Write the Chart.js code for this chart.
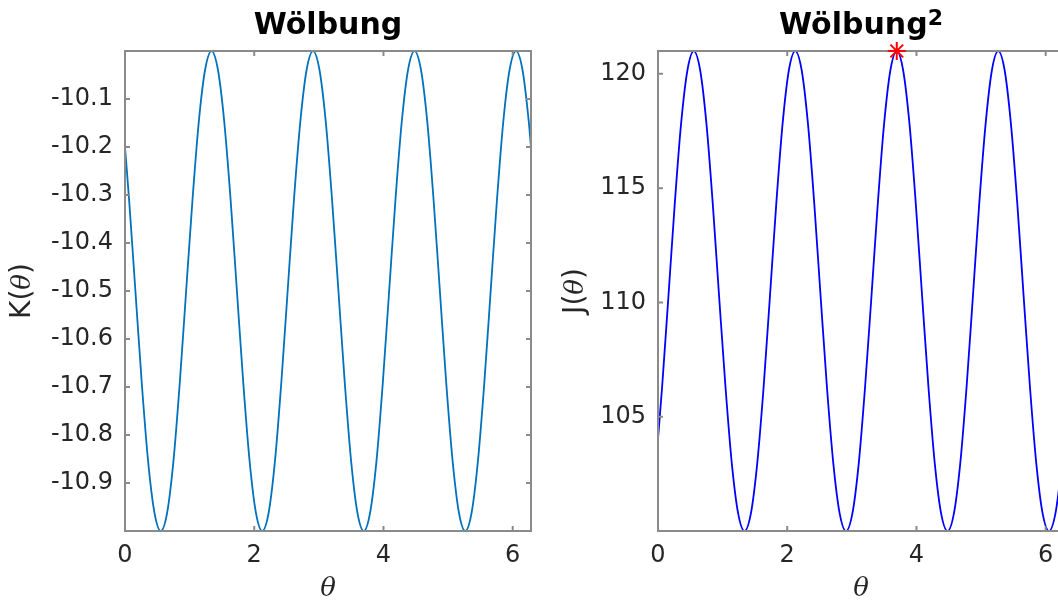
<!DOCTYPE html>
<html>
<head>
<meta charset="utf-8">
<script src="https://cdn.jsdelivr.net/npm/chart.js@4.4.1/dist/chart.umd.min.js"></script>
<style>
    html, body { margin: 0; padding: 0; background: #fff; overflow: hidden; width: 1058px; height: 603px; }
    .panel { position: absolute; top: 0; width: 560px; height: 603px; }
    #leftPanel { left: 0; }
    #rightPanel { left: 540px; }
</style>
</head>
<body>
<div class="panel" id="leftPanel"><canvas id="kappaChart" width="560" height="603"></canvas></div>
<div class="panel" id="rightPanel"><canvas id="kappaSqChart" width="560" height="603"></canvas></div>
<script>
// theta samples
const theta = [
    0, 0.063, 0.161, 0.259, 0.357, 0.456, 0.554, 0.652, 0.750, 0.848, 0.946,
    1.045, 1.143, 1.241, 1.339, 1.437, 1.535, 1.634, 1.732, 1.830, 1.928,
    2.026, 2.124, 2.223, 2.321, 2.419, 2.517, 2.615, 2.714, 2.812, 2.910,
    3.008, 3.106, 3.204, 3.303, 3.401, 3.499, 3.597, 3.695, 3.793, 3.892,
    3.990, 4.088, 4.186, 4.284, 4.382, 4.481, 4.579, 4.677, 4.775, 4.873,
    4.971, 5.070, 5.168, 5.266, 5.364, 5.462, 5.561, 5.659, 5.757, 5.855,
    5.953, 6.051, 6.150, 6.248, 6.283
];

// K(theta), left panel
const kappa = [
    -10.200,
    -10.309, -10.500, -10.691, -10.854, -10.962, -11.000, -10.962, -10.854,
    -10.691, -10.500, -10.309, -10.146, -10.038, -10.000, -10.038, -10.146,
    -10.309, -10.500, -10.691, -10.854, -10.962, -11.000, -10.962, -10.854,
    -10.691, -10.500, -10.309, -10.146, -10.038, -10.000, -10.038, -10.146,
    -10.309, -10.500, -10.691, -10.854, -10.962, -11.000, -10.962, -10.854,
    -10.691, -10.500, -10.309, -10.146, -10.038, -10.000, -10.038, -10.146,
    -10.309, -10.500, -10.691, -10.854, -10.962, -11.000, -10.962, -10.854,
    -10.691, -10.500, -10.309, -10.146, -10.038, -10.000, -10.038, -10.146,
    -10.200
];

// J(theta), right panel
const kappaSq = [
    104.04,
    106.28, 110.25, 114.30, 117.81, 120.17, 121.00, 120.17, 117.81,
    114.30, 110.25, 106.28, 102.94, 100.76, 100.00, 100.76, 102.94,
    106.28, 110.25, 114.30, 117.81, 120.17, 121.00, 120.17, 117.81,
    114.30, 110.25, 106.28, 102.94, 100.76, 100.00, 100.76, 102.94,
    106.28, 110.25, 114.30, 117.81, 120.17, 121.00, 120.17, 117.81,
    114.30, 110.25, 106.28, 102.94, 100.76, 100.00, 100.76, 102.94,
    106.28, 110.25, 114.30, 117.81, 120.17, 121.00, 120.17, 117.81,
    114.30, 110.25, 106.28, 102.94, 100.76, 100.00, 100.76, 102.94,
    104.04
];

// marked maximum of J
const peakTheta = [3.695];
const peakValue = [121];

// axis limits and ticks
const thetaRange = [0, 6.2832];
const kappaRange = [-11, -10];
const kappaSqRange = [100, 121];
const thetaTicks = [0, 2, 4, 6];
const kappaTicks = [-10.9, -10.8, -10.7, -10.6, -10.5, -10.4, -10.3, -10.2, -10.1];
const kappaSqTicks = [105, 110, 115, 120];

const tickColor = '#262626';
const boxColor = '#8a8a8a';
const sans = "'DejaVu Sans', sans-serif";
const serif = "'DejaVu Serif', serif";

// box round the axes with inward ticks on all four sides
const axesBox = {
    id: 'axesBox',
    afterDatasetDraw(chart, args, opts) {
        if (args.index !== opts.afterIndex) return;
        const { ctx, chartArea: a, scales } = chart;
        ctx.save();
        ctx.strokeStyle = boxColor;
        ctx.lineWidth = 2;
        ctx.strokeRect(a.left, a.top, a.right - a.left, a.bottom - a.top);
        ctx.beginPath();
        scales.x.ticks.forEach(t => {
            const px = scales.x.getPixelForValue(t.value);
            ctx.moveTo(px, a.bottom); ctx.lineTo(px, a.bottom - 5);
            ctx.moveTo(px, a.top); ctx.lineTo(px, a.top + 5);
        });
        scales.y.ticks.forEach(t => {
            const py = scales.y.getPixelForValue(t.value);
            ctx.moveTo(a.left, py); ctx.lineTo(a.left + 5, py);
            ctx.moveTo(a.right, py); ctx.lineTo(a.right - 5, py);
        });
        ctx.stroke();
        ctx.restore();
    }
};

// draws a row of text pieces with their own fonts (title, y label)
function drawPieces(ctx, parts) {
    let total = 0;
    const widths = parts.map(p => {
        ctx.font = p.font;
        const w = ctx.measureText(p.text).width;
        total += w;
        return w;
    });
    let x = -total / 2;
    parts.forEach((p, i) => {
        ctx.font = p.font;
        ctx.fillText(p.text, x, p.dy || 0);
        x += widths[i];
    });
}

const richText = {
    id: 'richText',
    afterDraw(chart, args, opts) {
        const { ctx, chartArea: a } = chart;
        ctx.save();
        ctx.textAlign = 'left';
        ctx.textBaseline = 'alphabetic';

        // title over the plot
        ctx.fillStyle = '#000';
        ctx.translate((a.left + a.right) / 2, 34);
        drawPieces(ctx, opts.title);
        ctx.restore();

        // rotated y label
        ctx.save();
        ctx.textAlign = 'left';
        ctx.textBaseline = 'middle';
        ctx.fillStyle = tickColor;
        ctx.translate(opts.labelX, (a.top + a.bottom) / 2);
        ctx.rotate(-Math.PI / 2);
        drawPieces(ctx, opts.label);
        ctx.restore();
    }
};

function makeOptions(titleParts, yRange, yTicks, yDigits, yWidth, rightPad, labelParts, labelX, afterIndex) {
    return {
        responsive: false,
        animation: false,
        layout: { padding: { left: 0, right: rightPad, top: 51, bottom: 0 } },
        plugins: {
            legend: { display: false },
            tooltip: { enabled: false },
            title: { display: false },
            axesBox: { afterIndex: afterIndex },
            richText: { title: titleParts, label: labelParts, labelX: labelX }
        },
        scales: {
            x: {
                type: 'linear',
                min: thetaRange[0],
                max: thetaRange[1],
                grid: { display: false, drawTicks: false },
                border: { display: false },
                afterBuildTicks: s => { s.ticks = thetaTicks.map(v => ({ value: v })); },
                afterFit: s => { s.height = 72; },
                ticks: {
                    color: tickColor,
                    padding: 10,
                    maxRotation: 0,
                    font: { family: sans, size: 24 },
                    callback: v => String(v)
                },
                title: {
                    display: true,
                    text: 'θ',
                    color: tickColor,
                    font: { family: serif, size: 26, style: 'italic' },
                    padding: { top: 0, bottom: -2 }
                }
            },
            y: {
                type: 'linear',
                min: yRange[0],
                max: yRange[1],
                grid: { display: false, drawTicks: false },
                border: { display: false },
                afterBuildTicks: s => { s.ticks = yTicks.map(v => ({ value: v })); },
                afterFit: s => { s.width = yWidth; },
                ticks: {
                    color: tickColor,
                    padding: 12,
                    font: { family: sans, size: 24 },
                    callback: v => Number(v).toFixed(yDigits)
                }
            }
        }
    };
}

const titleFont = "bold 30px 'DejaVu Sans'";
const supFont = "bold 22px 'DejaVu Sans'";
const labelFont = "28px 'DejaVu Sans'";
const thetaFont = "italic 26px 'DejaVu Serif'";

new Chart(document.getElementById('kappaChart'), {
    type: 'line',
    data: {
        datasets: [{
            data: theta.map((t, i) => ({ x: t, y: kappa[i] })),
            borderColor: '#0072BD',
            borderWidth: 1.8,
            pointRadius: 0,
            cubicInterpolationMode: 'monotone'
        }]
    },
    options: makeOptions(
        [{ text: 'Wölbung', font: titleFont }],
        kappaRange, kappaTicks, 1, 125, 29,
        [{ text: 'K(', font: labelFont }, { text: 'θ', font: thetaFont }, { text: ')', font: labelFont }], 23, 0),
    plugins: [axesBox, richText]
});

new Chart(document.getElementById('kappaSqChart'), {
    type: 'line',
    data: {
        datasets: [{
            data: peakTheta.map((t, i) => ({ x: t, y: peakValue[i] })),
            showLine: false,
            pointStyle: 'star',
            pointRadius: 9,
            borderColor: '#ff0000',
            borderWidth: 2,
            clip: false
        }, {
            data: theta.map((t, i) => ({ x: t, y: kappaSq[i] })),
            borderColor: '#0000ff',
            borderWidth: 1.8,
            pointRadius: 0,
            cubicInterpolationMode: 'monotone'
        }]
    },
    options: makeOptions(
        [{ text: 'Wölbung', font: titleFont }, { text: '2', font: supFont, dy: -9 }],
        kappaSqRange, kappaSqTicks, 0, 118, 36,
        [{ text: 'J(', font: labelFont }, { text: 'θ', font: thetaFont }, { text: ')', font: labelFont }], 36, 1),
    plugins: [axesBox, richText]
});
</script>
</body>
</html>
